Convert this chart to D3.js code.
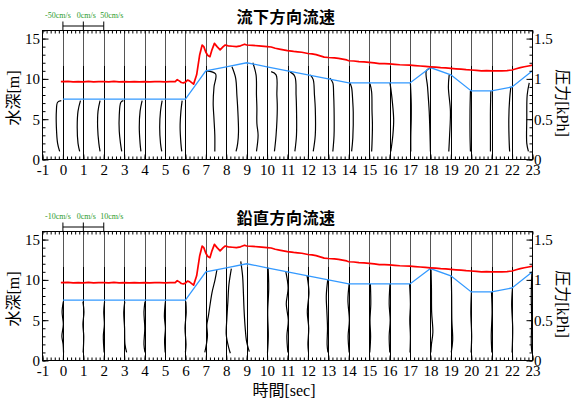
<!DOCTYPE html>
<html><head><meta charset="utf-8">
<script src="https://cdnjs.cloudflare.com/ajax/libs/d3/7.8.5/d3.min.js"></script>
<style>
html,body{margin:0;padding:0;background:#fff;}
svg{display:block;}
</style></head><body>
<svg id="chart" width="576" height="403"></svg>
<script>
// ---------- data ----------
const xTickValues = [-1,0,1,2,3,4,5,6,7,8,9,10,11,12,13,14,15,16,17,18,19,20,21,22,23];
const depthTicks = [0,5,10,15];
const pressureTicks = [0,0.5,1,1.5];
const panelTitles = ["流下方向流速","鉛直方向流速"];
const legendLabels = [["-50cm/s","0cm/s","50cm/s"],["-10cm/s","0cm/s","10cm/s"]];
const legendSpeeds = [50,10]; // cm/s represented by one second of x

const profileTimes = [0,1,2,3,4,5,6,7,8,9,10,11,12,13,14,15,16,17,18,19,20,21,22,23];

// water depth [m] at each second
const depthTime = [0,1,2,3,4,5,6,7,8,9,10,11,12,13,14,15,16,17,18,19,20,21,22,23];
const depthValues = [7.5,7.5,7.5,7.5,7.5,7.5,7.5,11.0,11.5,12.0,11.5,11.0,10.5,10.0,9.5,9.5,9.5,9.5,11.4,10.5,8.5,8.5,9.0,11.0];

// pressure [kPa]
const pressureTime = [-0.1,0.25,0.5,0.75,1,1.25,1.5,1.75,2,2.25,2.5,2.75,3,3.25,3.5,3.75,4,4.25,4.5,4.75,5,5.25,5.5,
  5.6,5.7,5.8,5.9,6.0,6.1,6.2,6.4,6.55,6.7,6.82,6.9,7.0,7.1,7.2,7.3,7.42,7.55,7.7,7.85,7.95,8.1,8.3,8.5,8.7,8.9,9.0,
  9.3,9.6,10.0,10.2,10.4,10.6,10.8,11.0,11.3,11.5,11.7,12.0,12.2,12.4,12.6,12.8,13.0,13.3,13.5,13.7,13.9,14.0,14.25,14.5,14.75,
  15.0,15.25,15.5,15.75,16.0,16.25,16.5,16.75,17.0,17.25,17.5,17.75,18.0,18.25,18.5,18.75,19.0,19.25,19.5,19.75,20.0,20.25,
  20.5,20.75,21.0,21.25,21.5,21.75,22.0,22.2,22.4,22.6,22.8,23.0];
const pressureValues = [0.965,0.968,0.962,0.966,0.964,0.969,0.963,0.967,0.965,0.962,0.968,0.964,0.966,0.963,0.967,0.964,0.966,0.962,0.967,0.965,0.963,0.967,0.965,
  0.99,0.975,0.955,0.95,0.96,0.985,0.975,0.935,1.05,1.30,1.42,1.40,1.33,1.29,1.275,1.36,1.44,1.40,1.36,1.40,1.42,1.41,1.405,1.40,1.41,1.43,1.42,
  1.415,1.41,1.40,1.395,1.38,1.37,1.36,1.35,1.34,1.335,1.33,1.315,1.31,1.30,1.285,1.27,1.265,1.26,1.255,1.245,1.235,1.225,1.222,1.215,1.21,
  1.205,1.198,1.19,1.188,1.185,1.18,1.175,1.172,1.17,1.165,1.16,1.155,1.15,1.146,1.14,1.136,1.13,1.125,1.12,1.114,1.11,1.106,
  1.10,1.102,1.10,1.098,1.10,1.103,1.11,1.125,1.14,1.15,1.16,1.17];

// velocity profiles: [depth m, velocity cm/s]
const streamwiseProfiles = [
  [[7.3,-4],[7.1,-13],[6,-16],[4,-16],[2,-13],[1,-8]],
  [[7.3,-7],[6,-13],[4,-15],[2,-13],[1,-9]],
  [[7.3,-9],[6,-14],[4,-15],[2,-12],[1,-9]],
  [[7.3,-2],[7.1,-8],[5.5,-12],[3.5,-12],[2,-9],[1,-6]],
  [[7.3,-6],[6,-11],[4,-13],[2,-11],[1,-9]],
  [[7.3,-7],[6,-11],[4,-13],[2,-11],[1,-8]],
  [[7.3,-8],[6,-11],[4,-13],[2,-11],[1,-9]],
  [[11,2],[10.6,24],[9,20],[7,18],[5,20],[3,22],[1,22]],
  [[11.5,14],[10.1,23],[8,26],[6.4,28],[3.4,30],[2,28],[1,24]],
  [[12,15],[10.5,23],[8,24],[6.4,25],[4.5,25],[3,28],[1,24]],
  [[10.9,10],[10.5,22],[8,24],[6.4,25],[3,22],[1,18]],
  [[10.9,6],[10.3,18],[8,21],[6.4,22],[3,22],[1,18]],
  [[10.5,6],[9.9,13],[8,16],[6.4,18],[3,18],[1,13]],
  [[10.1,4],[9.5,11],[8,13],[6.4,14],[3,14],[1,11]],
  [[9.5,3],[8.9,7],[7,10],[5.9,11],[2.7,10],[1,7]],
  [[9.4,2],[8.4,6],[6,7],[4.3,8],[2,7],[1,6]],
  [[9.5,1],[8,5],[5,10],[3,8],[1,3]],
  [[9.5,1],[7,3],[5,3],[3,2],[1,2]],
  [[11.3,-2],[11,-10],[9,-7],[6,-3],[3,-1],[1,0]],
  [[10.5,-4],[9,-6],[6,-1],[3,-3],[1,-5]],
  [[8.5,-2],[6,-3],[3,-3],[1,-2]],
  [[8.5,-2],[6,-3],[3,-3],[1,-3]],
  [[9,-3],[7.5,-6],[5,-8],[2,-7],[1,-6]],
  [[9.5,-8],[8,-13],[5,-14],[2,-14],[1,-10]]
];
const verticalProfiles = [
  [[7.3,0.2],[6,-0.4],[4.5,0.2],[3,-0.5],[2,0.1],[1,0.3]],
  [[7.3,-0.2],[6,0.3],[4.5,-0.2],[3,0.2],[1,-0.1]],
  [[7.3,0.4],[6,0],[4.5,0.3],[3,-0.2],[1,0.2]],
  [[7.3,0.3],[6,-0.2],[4,0.2],[2,0.4],[1,1.2]],
  [[7.3,0.2],[6,-0.3],[4,0.1],[2,-0.3],[1,0.2]],
  [[7.3,0.2],[5.5,-0.3],[4,0.2],[2.5,-0.2],[1,0.1]],
  [[7.3,0.2],[6,0.4],[4,-0.2],[2,0.3],[1,0]],
  [[11.2,5.4],[10,4.5],[8.4,3],[5.6,1.3],[4.4,0.5],[3,0.8],[1,-0.5]],
  [[11.4,2.5],[9.4,1.3],[7.3,0.8],[5.2,0.3],[3.2,0],[1.5,1.3],[0.9,2]],
  [[12.3,-2.9],[10.5,-2],[8.4,-1.6],[6.4,-1.3],[4.3,-0.8],[2.3,0],[1.1,1.3]],
  [[11.5,0.5],[9,0.8],[6,0.3],[3,0.6],[1,0.2]],
  [[11,-0.8],[9,0.3],[7,-0.6],[5,0.4],[3,-0.3],[1,0.2]],
  [[10.5,-0.4],[8.5,0.5],[6,-0.3],[4,0.4],[2,0],[1,0.3]],
  [[10,-0.3],[8,-1.0],[6,-0.7],[4,-0.4],[2,-0.6],[1,-0.2]],
  [[9.5,0.2],[7.5,-0.4],[5,0.3],[3,-0.3],[1,0.2]],
  [[9.5,0.6],[7,0.8],[5,0.4],[3,0.7],[1,0.3]],
  [[9.5,0.2],[7,-0.2],[5,0.3],[3,-0.2],[1,0.1]],
  [[9.5,-0.2],[7,0.2],[5,-0.1],[3,0.2],[1,0]],
  [[11.3,0.3],[9,0.5],[6,0.6],[3.5,1.2],[2,0.5],[1,0.2]],
  [[10.5,0.2],[8,0.4],[5,0.5],[2.5,0.9],[1,0.2]],
  [[8.5,0.1],[6,-0.2],[3,0.2],[1,-0.1]],
  [[8.5,-0.1],[6,0.2],[3,-0.2],[1,0.1]],
  [[9,0.2],[7,-0.2],[4,0.3],[1,0]],
  [[11,-0.3],[8,-0.6],[5,-0.4],[2,-0.6],[1,-0.3]]
];
const allProfiles = [streamwiseProfiles, verticalProfiles];

// ---------- layout ----------
const svg = d3.select("#chart");
const X0 = 42.5, X1 = 532.5;
const panels = [{top:30.5, bottom:159.5}, {top:231.5, bottom:360.5}];
const serif = "'Liberation Serif','Times New Roman',serif";
const jp = "'Noto Sans CJK JP','Noto Sans',sans-serif";

const x = d3.scaleLinear().domain([-1,23]).range([X0,X1]);

panels.forEach((p, pi) => {
  const yL = d3.scaleLinear().domain([0,16]).range([p.bottom,p.top]);
  const yR = d3.scaleLinear().domain([0,1.6]).range([p.bottom,p.top]);
  const g = svg.append("g");
  const clipId = "clip"+pi;
  svg.append("defs").append("clipPath").attr("id",clipId)
    .append("rect").attr("x",X0).attr("y",p.top).attr("width",X1-X0).attr("height",p.bottom-p.top);

  const plot = g.append("g").attr("clip-path","url(#"+clipId+")");

  // vertical reference lines at each second
  plot.selectAll("line.vg").data(profileTimes).join("line")
    .attr("x1",d=>Math.round(x(d))+0.5).attr("x2",d=>Math.round(x(d))+0.5)
    .attr("y1",yL(0)).attr("y2",yL(16))
    .attr("stroke","#555").attr("stroke-width",1);
  plot.selectAll("line.vb").data(profileTimes).join("line")
    .attr("x1",d=>Math.round(x(d))+0.5).attr("x2",d=>Math.round(x(d))+0.5)
    .attr("y1",yL(0)).attr("y2",yL(11.6))
    .attr("stroke","#000").attr("stroke-width",1);

  // profiles
  const sp = legendSpeeds[pi];
  allProfiles[pi].forEach((prof, i) => {
    const t = profileTimes[i];
    const ln = d3.line().x(d=>x(t + d[1]/sp)).y(d=>yL(d[0])).curve(d3.curveCatmullRom.alpha(0.5));
    plot.append("path").attr("d", ln(prof)).attr("fill","none")
      .attr("stroke","#000").attr("stroke-width",1.2);
  });

  // water depth (blue)
  const depthLine = d3.line().x((d,i)=>x(depthTime[i])).y(d=>yL(d));
  plot.append("path").attr("d",depthLine(depthValues)).attr("fill","none")
    .attr("stroke","#3399ff").attr("stroke-width",1.3);

  // pressure (red)
  const presLine = d3.line().x((d,i)=>x(pressureTime[i])).y(d=>yR(d));
  plot.append("path").attr("d",presLine(pressureValues)).attr("fill","none")
    .attr("stroke","#ff0000").attr("stroke-width",1.7).attr("stroke-linejoin","round");

  // frame
  g.append("rect").attr("x",X0).attr("y",p.top).attr("width",X1-X0).attr("height",p.bottom-p.top)
    .attr("fill","none").attr("stroke","#000").attr("stroke-width",1);

  const minorX = d3.range(-1,23.001,0.2).map(v=>+v.toFixed(1));
  const styleAxis = sel => {
    sel.select(".domain").remove();
    sel.selectAll("line").attr("stroke","#000");
    sel.selectAll("text").attr("font-family",serif).attr("font-size",15).attr("fill","#000");
  };
  // bottom axis
  g.append("g").attr("transform",`translate(0,${p.bottom})`)
    .call(d3.axisBottom(x).tickValues(minorX).tickSize(-3).tickFormat("")).call(styleAxis);
  g.append("g").attr("transform",`translate(0,${p.bottom})`)
    .call(d3.axisBottom(x).tickValues(xTickValues).tickSize(-5).tickPadding(5).tickFormat(d=>String(d))).call(styleAxis);
  // top axis
  g.append("g").attr("transform",`translate(0,${p.top})`)
    .call(d3.axisTop(x).tickValues(minorX).tickSize(-3).tickFormat("")).call(styleAxis);
  // left axis
  g.append("g").attr("transform",`translate(${X0},0)`)
    .call(d3.axisLeft(yL).tickValues(d3.range(0,16.5,1)).tickSize(-3).tickFormat("")).call(styleAxis);
  g.append("g").attr("transform",`translate(${X0},0)`)
    .call(d3.axisLeft(yL).tickValues(depthTicks).tickSize(-6).tickPadding(2.5).tickFormat(d=>String(d))).call(styleAxis);
  // right axis
  g.append("g").attr("transform",`translate(${X1},0)`)
    .call(d3.axisRight(yR).tickValues(d3.range(0,16.5,1).map(v=>v/10)).tickSize(-3).tickFormat("")).call(styleAxis);
  g.append("g").attr("transform",`translate(${X1},0)`)
    .call(d3.axisRight(yR).tickValues(pressureTicks).tickSize(-6).tickPadding(1.5).tickFormat(d=>String(d))).call(styleAxis);

  // title
  g.append("text").attr("x",286).attr("y",p.top-7.5).attr("text-anchor","middle")
    .attr("font-family",jp).attr("font-weight","bold").attr("font-size",16).attr("letter-spacing",0.5)
    .text(panelTitles[pi]);

  // legend bracket
  const ly = p.top - 4.5;
  const lxs = [x(0), x(1), x(2)];
  const lg = g.append("g");
  lg.append("line").attr("x1",lxs[0]).attr("x2",lxs[2]).attr("y1",ly).attr("y2",ly).attr("stroke","#000");
  lg.selectAll("line.lv").data(lxs).join("line").attr("class","lv")
    .attr("x1",d=>d).attr("x2",d=>d).attr("y1",p.top-9).attr("y2",p.top).attr("stroke","#000");
  const lcx = [lxs[0]-5, lxs[1]+3, lxs[2]+8];
  lg.selectAll("text").data(legendLabels[pi]).join("text")
    .attr("x",(d,i)=>lcx[i]).attr("y",p.top-13).attr("text-anchor","middle")
    .attr("font-family",serif).attr("font-size",8).attr("fill","#2a9a2a").text(d=>d);

  // axis titles
  const cy = (p.top+p.bottom)/2;
  const lt = g.append("text").attr("transform",`translate(13,${cy+3}) rotate(-90)`)
    .attr("text-anchor","middle").attr("dy","0.35em").attr("font-size",16).attr("fill","#000");
  lt.append("tspan").attr("font-family",jp).text("水深");
  lt.append("tspan").attr("font-family",serif).text("[m]");
  const rt = g.append("text").attr("transform",`translate(563,${cy+8}) rotate(90)`)
    .attr("text-anchor","middle").attr("dy","0.35em").attr("font-size",16).attr("fill","#000");
  rt.append("tspan").attr("font-family",jp).text("圧力");
  rt.append("tspan").attr("font-family",serif).text("[kPh]");
});

// x-axis title
const xt = svg.append("text").attr("x",284).attr("y",396).attr("text-anchor","middle")
  .attr("font-size",16).attr("fill","#000");
xt.append("tspan").attr("font-family",jp).text("時間");
xt.append("tspan").attr("font-family",serif).text("[sec]");
</script>
</body></html>
